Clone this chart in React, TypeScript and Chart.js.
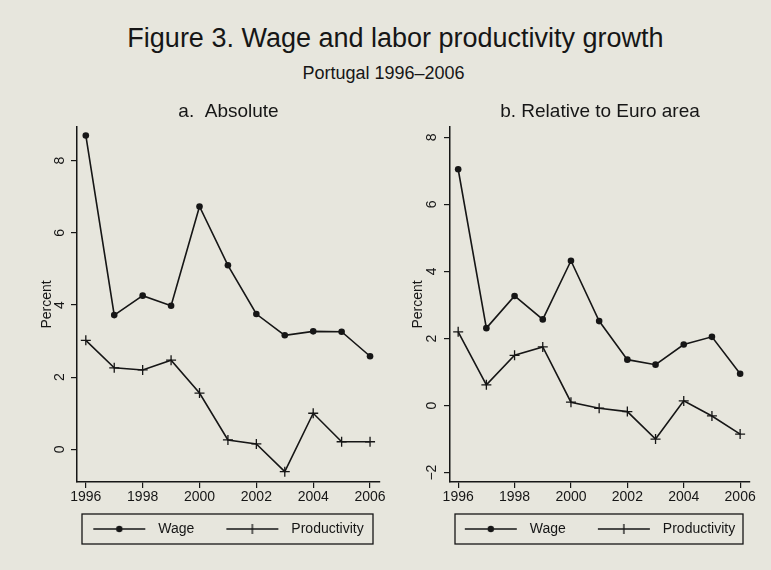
import React, { useEffect, useRef } from 'react';
import { Chart, registerables } from 'chart.js';

Chart.register(...registerables);

// ---------------- data ----------------
const years = [1996, 1997, 1998, 1999, 2000, 2001, 2002, 2003, 2004, 2005, 2006];
const wageAbsolute = [8.7, 3.72, 4.26, 3.98, 6.73, 5.1, 3.75, 3.16, 3.27, 3.26, 2.58];
const productivityAbsolute = [3.02, 2.26, 2.2, 2.47, 1.56, 0.26, 0.15, -0.62, 1.0, 0.21, 0.21];
const wageRelative = [7.05, 2.31, 3.27, 2.57, 4.32, 2.52, 1.37, 1.22, 1.82, 2.05, 0.95];
const productivityRelative = [2.2, 0.62, 1.5, 1.75, 0.1, -0.08, -0.18, -1.0, 0.14, -0.31, -0.85];
const xTickYears = [1996, 1998, 2000, 2002, 2004, 2006];
const yTicksAbsolute = [0, 2, 4, 6, 8];
const yTicksRelative = [-2, 0, 2, 4, 6, 8];
const seriesLabels = ['Wage', 'Productivity'];
const mainTitle = 'Figure 3. Wage and labor productivity growth';
const subTitle = 'Portugal 1996\u20132006';
const panelTitles = ['a.  Absolute', 'b. Relative to Euro area'];
const yAxisTitle = 'Percent';

// ---------------- style ----------------
const INK = '#161616';
const BG = '#e7e6dd';
const FONT = '"Liberation Sans", Arial, Helvetica, sans-serif';
const LEGEND_PAD = 15;
const ICON_LEAD = 17;

Chart.defaults.font.family = FONT;
Chart.defaults.color = INK;

function makeIcon(kind: 'circle' | 'cross'): HTMLCanvasElement {
  const c = document.createElement('canvas');
  c.width = ICON_LEAD + 58;
  c.height = 12;
  const ctx = c.getContext('2d') as CanvasRenderingContext2D;
  ctx.strokeStyle = INK;
  ctx.fillStyle = INK;
  ctx.lineWidth = 1.5;
  ctx.beginPath();
  ctx.moveTo(ICON_LEAD, 6);
  ctx.lineTo(ICON_LEAD + 52, 6);
  ctx.stroke();
  const mid = ICON_LEAD + 26;
  if (kind === 'circle') {
    ctx.beginPath();
    ctx.arc(mid, 6, 3.2, 0, Math.PI * 2);
    ctx.fill();
  } else {
    ctx.lineWidth = 1.3;
    ctx.beginPath();
    ctx.moveTo(mid, 1);
    ctx.lineTo(mid, 11);
    ctx.stroke();
  }
  return c;
}

type PanelProps = {
  left: number;
  width: number;
  title: string;
  wage: number[];
  productivity: number[];
  yMin: number;
  yMax: number;
  yTicks: number[];
  xMin: number;
  xMax: number;
  padLeft: number;
  axisWidth: number;
  rightWidth: number;
  tickPad: number;
  yTitlePad: number;
};

function Panel(p: PanelProps) {
  const ref = useRef<HTMLCanvasElement>(null);
  useEffect(() => {
    const canvas = ref.current as HTMLCanvasElement;
    const icons = [makeIcon('circle'), makeIcon('cross')];
    const legendFrame = {
      id: 'legendFrame',
      afterDraw(chart: any) {
        const lg = chart.legend;
        const ca = chart.chartArea;
        const ctx = chart.ctx;
        const cy = lg.top + LEGEND_PAD + 7;
        ctx.save();
        ctx.strokeStyle = INK;
        ctx.lineWidth = 1.3;
        ctx.strokeRect(ca.left + 5, cy - 15, ca.right - ca.left - 12, 30);
        ctx.restore();
      },
    };
    const chart = new Chart(canvas, {
      type: 'line',
      data: {
        datasets: [
          {
            label: seriesLabels[0],
            data: years.map((y, i) => ({ x: y, y: p.wage[i] })),
            borderColor: INK,
            borderWidth: 1.6,
            pointStyle: 'circle',
            pointRadius: 3.3,
            pointBackgroundColor: INK,
            pointBorderColor: INK,
            pointBorderWidth: 0,
            tension: 0,
          },
          {
            label: seriesLabels[1],
            data: years.map((y, i) => ({ x: y, y: p.productivity[i] })),
            borderColor: INK,
            borderWidth: 1.6,
            pointStyle: 'cross',
            pointRadius: 5,
            pointBorderColor: INK,
            pointBorderWidth: 1.3,
            tension: 0,
          },
        ],
      },
      options: {
        animation: false,
        responsive: false,
        layout: { padding: { left: p.padLeft, right: 0, top: 0, bottom: 24 } },
        scales: {
          x: {
            type: 'linear',
            min: p.xMin,
            max: p.xMax,
            afterBuildTicks: (s: any) => {
              s.ticks = xTickYears.map((v) => ({ value: v }));
            },
            afterFit: (s: any) => {
              s.height = 25;
            },
            ticks: {
              callback: (v: any) => String(v),
              font: { size: 14 },
              color: INK,
              padding: 1,
              minRotation: 0,
              maxRotation: 0,
              autoSkip: false,
            },
            grid: { display: true, drawOnChartArea: false, drawTicks: true, tickLength: 6, color: INK, lineWidth: 1.2 },
            border: { display: true, color: INK, width: 1.5 },
          },
          y: {
            type: 'linear',
            position: 'left',
            min: p.yMin,
            max: p.yMax,
            afterBuildTicks: (s: any) => {
              s.ticks = p.yTicks.map((v) => ({ value: v }));
            },
            afterFit: (s: any) => {
              s.width = p.axisWidth;
            },
            ticks: {
              callback: (v: any) => (v < 0 ? '\u2212' + Math.abs(v) : String(v)),
              font: { size: 14 },
              color: INK,
              padding: p.tickPad,
              minRotation: 90,
              maxRotation: 90,
              crossAlign: 'center',
              autoSkip: false,
            },
            title: {
              display: true,
              text: yAxisTitle,
              font: { size: 14 },
              color: INK,
              padding: { top: p.yTitlePad, bottom: 0 },
            },
            grid: { display: true, drawOnChartArea: false, drawTicks: true, tickLength: 6, color: INK, lineWidth: 1.2 },
            border: { display: true, color: INK, width: 1.5 },
          },
          yRightSpacer: {
            type: 'linear',
            position: 'right',
            min: p.yMin,
            max: p.yMax,
            display: true,
            afterFit: (s: any) => {
              s.width = p.rightWidth;
            },
            ticks: { display: false },
            grid: { display: false },
            border: { display: false },
          },
        },
        plugins: {
          title: {
            display: true,
            text: p.title,
            fullSize: false,
            color: INK,
            font: { size: 19, weight: 'normal' },
            padding: { top: 10.6, bottom: 3.6 },
          },
          legend: {
            display: true,
            position: 'bottom',
            fullSize: true,
            onClick: () => {},
            labels: {
              usePointStyle: true,
              pointStyleWidth: ICON_LEAD + 58,
              padding: LEGEND_PAD,
              font: { size: 14 },
              color: INK,
              generateLabels: () =>
                seriesLabels.map((t, i) => ({
                  text: t,
                  pointStyle: icons[i],
                  fillStyle: INK,
                  strokeStyle: INK,
                  lineWidth: 0,
                  hidden: false,
                  datasetIndex: i,
                  fontColor: INK,
                })),
            },
          },
          tooltip: { enabled: false },
        },
      } as any,
      plugins: [legendFrame],
    });
    return () => chart.destroy();
  }, []);
  return (
    <canvas
      ref={ref}
      width={p.width}
      height={480}
      style={{ position: 'absolute', left: p.left, top: 90, width: p.width, height: 480 }}
    />
  );
}

export default function App() {
  return (
    <div
      style={{
        position: 'fixed',
        left: 0,
        top: 0,
        width: 771,
        height: 570,
        background: BG,
        overflow: 'hidden',
        fontFamily: FONT,
        color: INK,
      }}
    >
      <div
        style={{
          position: 'absolute',
          left: 10,
          top: 22.8,
          width: 771,
          textAlign: 'center',
          fontSize: 27,
          lineHeight: '30px',
          whiteSpace: 'pre',
        }}
      >
        {mainTitle}
      </div>
      <div
        style={{
          position: 'absolute',
          left: -2,
          top: 62,
          width: 771,
          textAlign: 'center',
          fontSize: 18,
          lineHeight: '22px',
        }}
      >
        {subTitle}
      </div>
      <Panel
        left={0}
        width={403}
        title={panelTitles[0]}
        wage={wageAbsolute}
        productivity={productivityAbsolute}
        yMin={-0.906}
        yMax={8.934}
        yTicks={yTicksAbsolute}
        xMin={1995.69}
        xMax={2006.35}
        padLeft={37}
        axisWidth={40}
        rightWidth={23}
        tickPad={7}
        yTitlePad={1.3}
      />
      <Panel
        left={375}
        width={396}
        title={panelTitles[1]}
        wage={wageRelative}
        productivity={productivityRelative}
        yMin={-2.28}
        yMax={8.31}
        yTicks={yTicksRelative}
        xMin={1995.71}
        xMax={2006.35}
        padLeft={37}
        axisWidth={38}
        rightWidth={21}
        tickPad={4}
        yTitlePad={-2.4}
      />
    </div>
  );
}
